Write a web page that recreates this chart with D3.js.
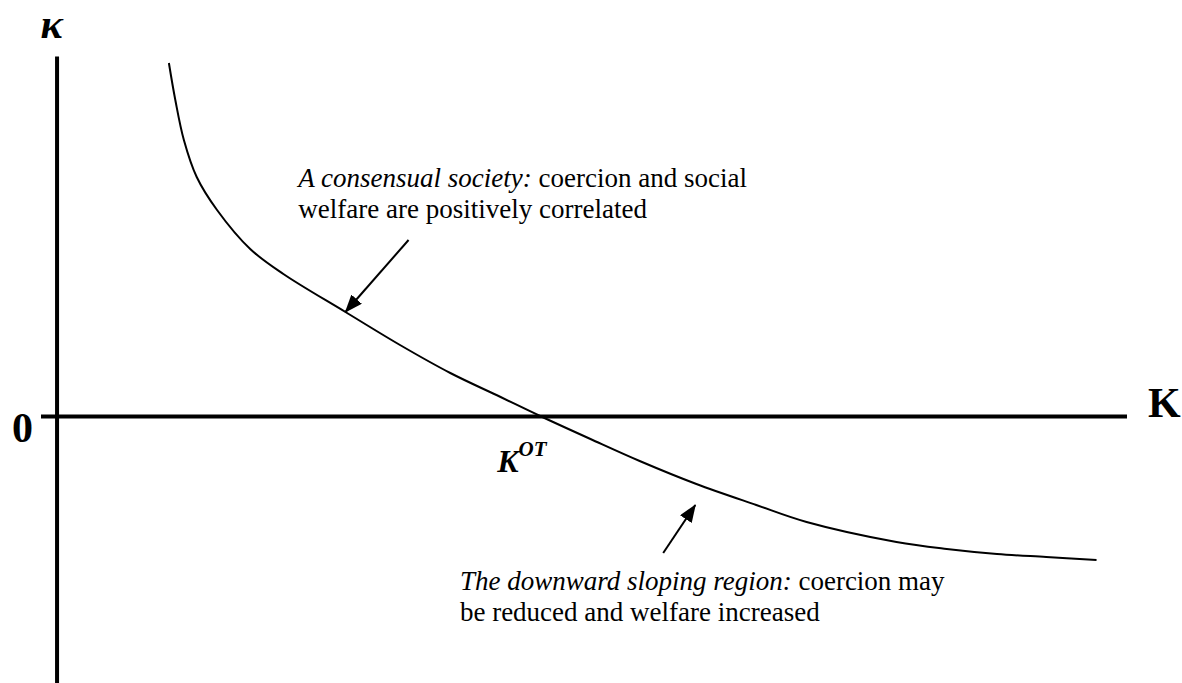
<!DOCTYPE html>
<html>
<head>
<meta charset="utf-8">
<script src="https://cdn.jsdelivr.net/npm/d3@7"></script>
<style>
  body { margin: 0; background: #fff; }
  svg { display: block; }
</style>
</head>
<body>
<div id="graph"></div>
<script>
(function(){
	"use strict";

	var serif = "'Liberation Serif', 'Times New Roman', Times, serif";

	// curve: K on the horizontal axis, kappa on the vertical one
	var kValues     = [1.05, 1.11, 1.19, 1.31, 1.50, 1.81, 2.12, 2.70, 3.21, 3.68, 4.15, 4.52, 4.99, 5.45, 5.98, 6.54, 7.01, 7.85, 8.32, 8.79, 9.25, 9.72];
	var kappaValues = [3.53, 3.16, 2.76, 2.39, 2.06, 1.67, 1.42, 1.04, 0.71, 0.43, 0.19, 0.00, -0.23, -0.45, -0.68, -0.89, -1.06, -1.26, -1.33, -1.38, -1.41, -1.44];

	// the point where kappa = 0
	var kOT = 4.52;

	// arrows [tailK, tailKappa, tipK, tipKappa]
	var arrows = [
		[3.29, 1.76, 2.70, 1.04],
		[5.67, -1.37, 5.97, -0.89]
	];

	// annotation text, each line is [italic part, normal part]
	var note1 = [["A consensual society:", " coercion and social"], ["", "welfare are positively correlated"]];
	var note2 = [["The downward sloping region:", " coercion may"], ["", "be reduced and welfare increased"]];
	var noteAnchors = [[2.26, 2.29], [3.77, -1.74]];

	var width = 1182, height = 683;

	var xScale = d3.scaleLinear()
					.domain([-0.15, 10])
					.range([40.5, 1126.5]);

	var yScale = d3.scaleLinear()
					.domain([-2.67, 3.6])
					.range([683, 56]);

	var svg = d3.select("#graph").append("svg")
		.attr("width", width)
		.attr("height", height);

	svg.append("defs").append("marker")
		.attr("id", "head")
		.attr("markerUnits", "userSpaceOnUse")
		.attr("viewBox", "0 0 18 14")
		.attr("refX", 17)
		.attr("refY", 7)
		.attr("markerWidth", 18)
		.attr("markerHeight", 14)
		.attr("orient", "auto")
	  .append("path")
		.attr("d", "M0,0L18,7L0,14z")
		.attr("fill", "#000");

	// axes without ticks, only the domain line
	var xAxis = d3.axisBottom(xScale).tickValues([]).tickSizeOuter(0);
	var yAxis = d3.axisLeft(yScale).tickValues([]).tickSizeOuter(0);

	svg.append("g")
		.attr("class", "axisX")
		.attr("transform", "translate(0," + yScale(0) + ")")
		.call(xAxis);

	svg.append("g")
		.attr("class", "axisY")
		.attr("transform", "translate(" + xScale(0) + ",0)")
		.call(yAxis);

	svg.selectAll(".domain")
		.attr("stroke", "#000")
		.attr("stroke-width", 4);

	// the curve
	var line = d3.line()
		.x(function(d){ return xScale(d[0]); })
		.y(function(d){ return yScale(d[1]); })
		.curve(d3.curveCatmullRom.alpha(0.5));

	svg.append("path")
		.datum(d3.zip(kValues, kappaValues))
		.attr("d", line)
		.attr("fill", "none")
		.attr("stroke", "#000")
		.attr("stroke-width", 2);

	// arrows
	svg.selectAll(".arrow")
		.data(arrows)
		.enter()
		.append("line")
		.attr("class", "arrow")
		.attr("x1", function(d){ return xScale(d[0]); })
		.attr("y1", function(d){ return yScale(d[1]); })
		.attr("x2", function(d){ return xScale(d[2]); })
		.attr("y2", function(d){ return yScale(d[3]); })
		.attr("stroke", "#000")
		.attr("stroke-width", 2)
		.attr("marker-end", "url(#head)");

	// annotations, one text element per line
	[note1, note2].forEach(function(note, n){
		note.forEach(function(l, i){
			var t = svg.append("text")
				.attr("x", xScale(noteAnchors[n][0]))
				.attr("y", yScale(noteAnchors[n][1]) + i * 31)
				.attr("font-family", serif)
				.attr("font-size", 27)
				.attr("fill", "#000");
			if (l[0]) {
				t.append("tspan")
					.attr("font-style", "italic")
					.text(l[0]);
			}
			t.append("tspan")
				.style("white-space", "pre")
				.text(l[1]);
		});
	});

	// axis labels
	svg.append("text")
		.attr("x", xScale(0) - 16)
		.attr("y", 38)
		.attr("font-family", serif)
		.attr("font-size", 42)
		.attr("font-weight", "bold")
		.attr("font-style", "italic")
		.text("\u03BA");

	svg.append("text")
		.attr("x", 12)
		.attr("y", yScale(0) + 26)
		.attr("font-family", serif)
		.attr("font-size", 42)
		.attr("font-weight", "bold")
		.text("0");

	svg.append("text")
		.attr("x", 1148)
		.attr("y", yScale(0) + 1)
		.attr("font-family", serif)
		.attr("font-size", 42)
		.attr("font-weight", "bold")
		.text("K");

	var kot = svg.append("text")
		.attr("x", xScale(kOT) - 43)
		.attr("y", yScale(0) + 56)
		.attr("font-family", serif)
		.attr("font-size", 32)
		.attr("font-weight", "bold")
		.attr("font-style", "italic");
	kot.append("tspan").text("K");
	kot.append("tspan")
		.attr("dy", -16)
		.attr("font-size", 21)
		.text("OT");

})();
</script>
</body>
</html>
